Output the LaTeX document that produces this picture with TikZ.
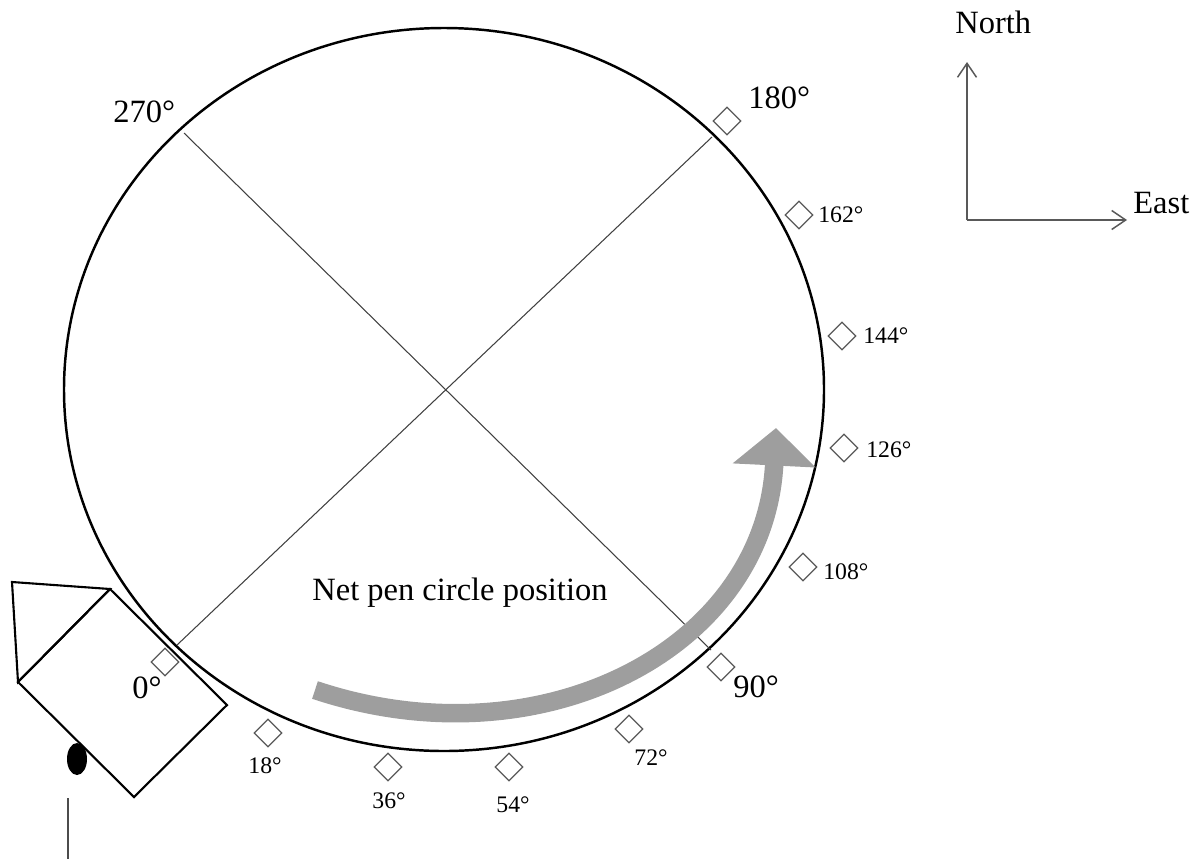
\documentclass[tikz,border=0pt]{standalone}
\usepackage{fontspec}
\setmainfont{Liberation Serif}
\usetikzlibrary{arrows.meta, shapes.geometric}

\begin{document}
\begin{tikzpicture}[x=0.02cm, y=-0.02cm,
    bigtext/.style={inner sep=0pt, font=\fontsize{18.5}{20}\selectfont},
    smalltext/.style={inner sep=0pt, font=\fontsize{13.5}{15}\selectfont},
    marker/.style={diamond, draw=black!65, line width=0.7pt, inner sep=0pt, minimum size=0.56cm},
    diag/.style={black!75, line width=0.6pt},
    house/.style={line width=1.2pt},
    pointer/.style={black!65, line width=0.85pt, -{Straight Barb[length=2.8mm, width=3.8mm]}}]
    \useasboundingbox (0,0) rectangle (1195,859);

    % net pen circle and its two axes
    \draw[line width=1.4pt] (444,389.5) ellipse [x radius=380, y radius=361.5];
    \coordinate (c0) at (177,645);
    \coordinate (c90) at (711,650);
    \coordinate (c180) at (712,137);
    \coordinate (c270) at (184,133);
    \draw[diag] (c0) -- (c180);
    \draw[diag] (c270) -- (c90);

    % rotation of the pen
    \draw[black!38, line width=0.37cm, -{Triangle[width=1.62cm, length=0.75cm]}]
        (315,690) .. controls (540,765) and (765,650) .. (776,428);
    \node[bigtext, anchor=base west] (netpen) at (312,600) {Net pen circle position};

    % markers round the rim
    \node[marker] (m0) at (165,662) {};
    \node[marker] (m18) at (268,733) {};
    \node[marker] (m36) at (388,767) {};
    \node[marker] (m54) at (509,767) {};
    \node[marker] (m72) at (629,729) {};
    \node[marker] (m90) at (721,667) {};
    \node[marker] (m108) at (803,567) {};
    \node[marker] (m126) at (844,448) {};
    \node[marker] (m144) at (842,336) {};
    \node[marker] (m162) at (799,215) {};
    \node[marker] (m180) at (727,121) {};

    \node[bigtext, anchor=base west] (l0) at (132,698) {0°};
    \node[bigtext, anchor=base west] (l90) at (733,697) {90°};
    \node[bigtext, anchor=base west] (l180) at (748,108) {180°};
    \node[bigtext, anchor=base west] (l270) at (113,122) {270°};
    \node[smalltext, anchor=base] (l18) at (265,773) {18°};
    \node[smalltext, anchor=base] (l36) at (389,808) {36°};
    \node[smalltext, anchor=base] (l54) at (513,812) {54°};
    \node[smalltext, anchor=base] (l72) at (651,765) {72°};
    \node[smalltext, anchor=base west] (l108) at (823,579) {108°};
    \node[smalltext, anchor=base west] (l126) at (866,457) {126°};
    \node[smalltext, anchor=base west] (l144) at (863,343) {144°};
    \node[smalltext, anchor=base west] (l162) at (818,222) {162°};

    % house on the shore
    \draw[house] (12,582) -- (110,589) -- (18,682) -- cycle;
    \draw[house] (18,682) -- (110,589) -- (227,705) -- (134,797) -- cycle;
    \fill (77,759) ellipse [x radius=10, y radius=16];
    \draw[black!70, line width=0.6pt] (68,798) -- (68,859);

    % compass
    \coordinate (origin) at (967,220);
    \coordinate (northtip) at (967,62);
    \coordinate (easttip) at (1127,220);
    \draw[pointer] (origin) -- (northtip);
    \draw[pointer] (origin) -- (easttip);
    \node[bigtext, anchor=base west] (north) at (955,33) {North};
    \node[bigtext, anchor=base west] (east) at (1133,213) {East};
\end{tikzpicture}
\end{document}
